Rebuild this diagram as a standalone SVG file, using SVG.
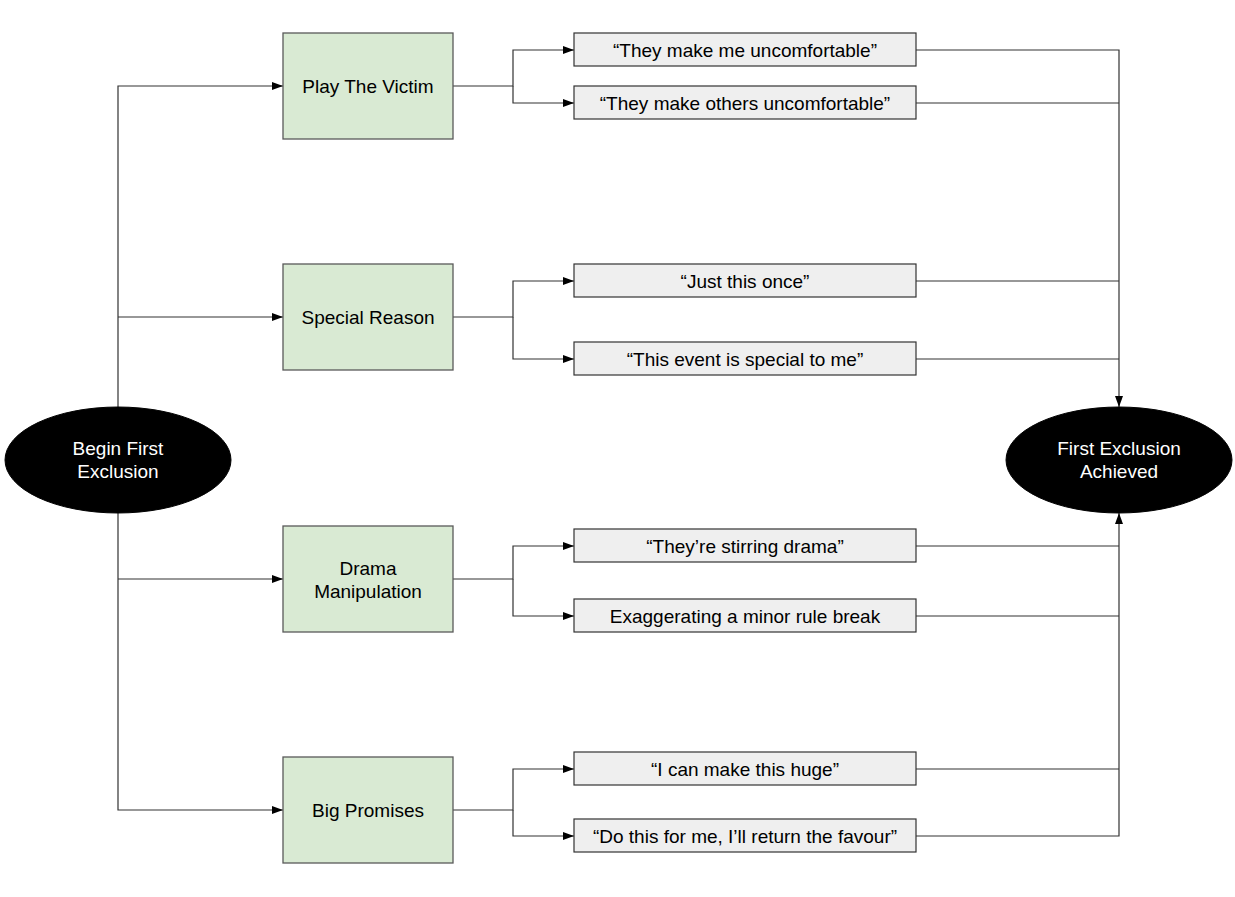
<svg xmlns="http://www.w3.org/2000/svg" width="1235" height="897" viewBox="0 0 1235 897">
<style>
.g{fill:#d9ead3;stroke:#595959;stroke-width:1.3}
.q{fill:#efefef;stroke:#333;stroke-width:1.2}
.e{fill:#000;stroke:#000}
.c{fill:none;stroke:#333;stroke-width:1.2}
text{font-family:"Liberation Sans",Arial,sans-serif;font-size:19px;text-anchor:middle;dominant-baseline:central;fill:#000}
.w{fill:#fff}
</style>
<defs>
<marker id="a" markerWidth="12" markerHeight="10" refX="11" refY="5" orient="auto" markerUnits="userSpaceOnUse"><path d="M0,1 L11,5 L0,9 Z" fill="#000"/></marker>
</defs>
<rect width="1235" height="897" fill="#fff"/>
<g id="connectors">
<path class="c" d="M118,407 V86 H283" marker-end="url(#a)"/>
<path class="c" d="M118,317 H283" marker-end="url(#a)"/>
<path class="c" d="M118,513 V810 H283" marker-end="url(#a)"/>
<path class="c" d="M118,579 H283" marker-end="url(#a)"/>
<path class="c" d="M453,86 H513 V50 H574" marker-end="url(#a)"/>
<path class="c" d="M513,86 V103 H574" marker-end="url(#a)"/>
<path class="c" d="M453,317 H513 V281 H574" marker-end="url(#a)"/>
<path class="c" d="M513,317 V359 H574" marker-end="url(#a)"/>
<path class="c" d="M453,579 H513 V546 H574" marker-end="url(#a)"/>
<path class="c" d="M513,579 V616 H574" marker-end="url(#a)"/>
<path class="c" d="M453,810 H513 V769 H574" marker-end="url(#a)"/>
<path class="c" d="M513,810 V836 H574" marker-end="url(#a)"/>
<path class="c" d="M916,50 H1119 V407" marker-end="url(#a)"/>
<path class="c" d="M916,103 H1119 M916,281 H1119 M916,359 H1119"/>
<path class="c" d="M916,836 H1119 V513" marker-end="url(#a)"/>
<path class="c" d="M916,546 H1119 M916,616 H1119 M916,769 H1119"/>
</g>
<g id="begin"><ellipse class="e" cx="118" cy="460" rx="113" ry="53"/><text class="w" x="118" y="448">Begin First</text><text class="w" x="118" y="471">Exclusion</text></g>
<g id="achieved"><ellipse class="e" cx="1119" cy="460" rx="113" ry="53"/><text class="w" x="1119" y="448">First Exclusion</text><text class="w" x="1119" y="471">Achieved</text></g>
<g id="victim"><rect class="g" x="283" y="33" width="170" height="106"/><text x="368" y="86">Play The Victim</text></g>
<g id="special"><rect class="g" x="283" y="264" width="170" height="106"/><text x="368" y="317">Special Reason</text></g>
<g id="drama"><rect class="g" x="283" y="526" width="170" height="106"/><text x="368" y="568">Drama</text><text x="368" y="591">Manipulation</text></g>
<g id="promises"><rect class="g" x="283" y="757" width="170" height="106"/><text x="368" y="810">Big Promises</text></g>
<g id="v1"><rect class="q" x="574" y="33" width="342" height="33"/><text x="745" y="50">“They make me uncomfortable”</text></g>
<g id="v2"><rect class="q" x="574" y="86" width="342" height="33"/><text x="745" y="103">“They make others uncomfortable”</text></g>
<g id="s1"><rect class="q" x="574" y="264" width="342" height="33"/><text x="745" y="281">“Just this once”</text></g>
<g id="s2"><rect class="q" x="574" y="342" width="342" height="33"/><text x="745" y="359">“This event is special to me”</text></g>
<g id="d1"><rect class="q" x="574" y="529" width="342" height="33"/><text x="745" y="546">“They’re stirring drama”</text></g>
<g id="d2"><rect class="q" x="574" y="599" width="342" height="33"/><text x="745" y="616">Exaggerating a minor rule break</text></g>
<g id="p1"><rect class="q" x="574" y="752" width="342" height="33"/><text x="745" y="769">“I can make this huge”</text></g>
<g id="p2"><rect class="q" x="574" y="819" width="342" height="33"/><text x="745" y="836">“Do this for me, I’ll return the favour”</text></g>
</svg>
